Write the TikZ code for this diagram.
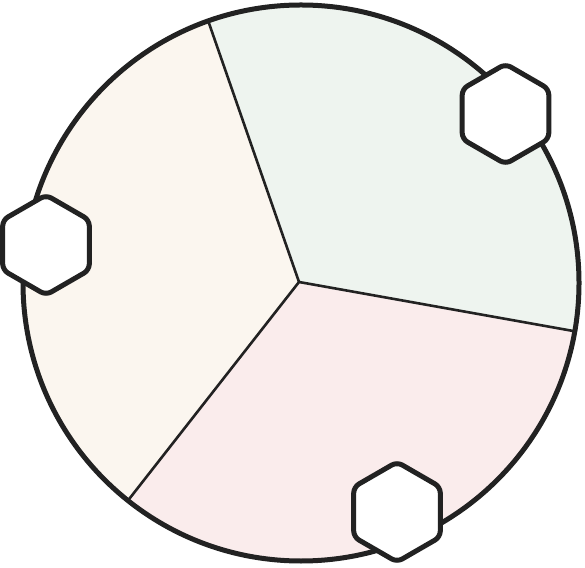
\documentclass[tikz,border=0pt]{standalone}
\usetikzlibrary{shapes.geometric}
\definecolor{inkdark}{HTML}{222222}
\definecolor{sagefill}{HTML}{EEF4EF}
\definecolor{creamfill}{HTML}{FBF6EF}
\definecolor{rosefill}{HTML}{FAECEC}
\begin{document}
\begin{tikzpicture}
         [x=1pt, y=1pt,
          hex node/.style={regular polygon, regular polygon sides=6, shape border rotate=30,
                           draw=inkdark, fill=white, line width=5pt, rounded corners=6pt,
                           minimum size=100pt, inner sep=0pt},
          divider/.style={draw=inkdark, line width=2.6pt}]
         \useasboundingbox (0,0) rectangle (585,567);
         \coordinate (c) at (301,284);
         \coordinate (m) at (299,285);
         \path (c) ++(-10:278pt) coordinate (e1);
         \path (c) ++(109.5:278pt) coordinate (e2);
         \path (c) ++(231.5:278pt) coordinate (e3);
         
         \fill[sagefill] (m) -- (e1) arc[start angle=-10, end angle=109.5, radius=278pt] -- cycle;
         \fill[creamfill] (m) -- (e2) arc[start angle=109.5, end angle=231.5, radius=278pt] -- cycle;
         \fill[rosefill] (m) -- (e3) arc[start angle=231.5, end angle=350, radius=278pt] -- cycle;
         
         \draw[divider] (m) -- (e1);
         \draw[divider] (m) -- (e2);
         \draw[divider] (m) -- (e3);
         \draw[inkdark, line width=5pt] (c) circle[radius=278pt];
         
         \node[hex node] (h1) at (505.5,453) {};
         \node[hex node] (h2) at (46,322) {};
         \node[hex node] (h3) at (397,55) {};
      \end{tikzpicture}
\end{document}
